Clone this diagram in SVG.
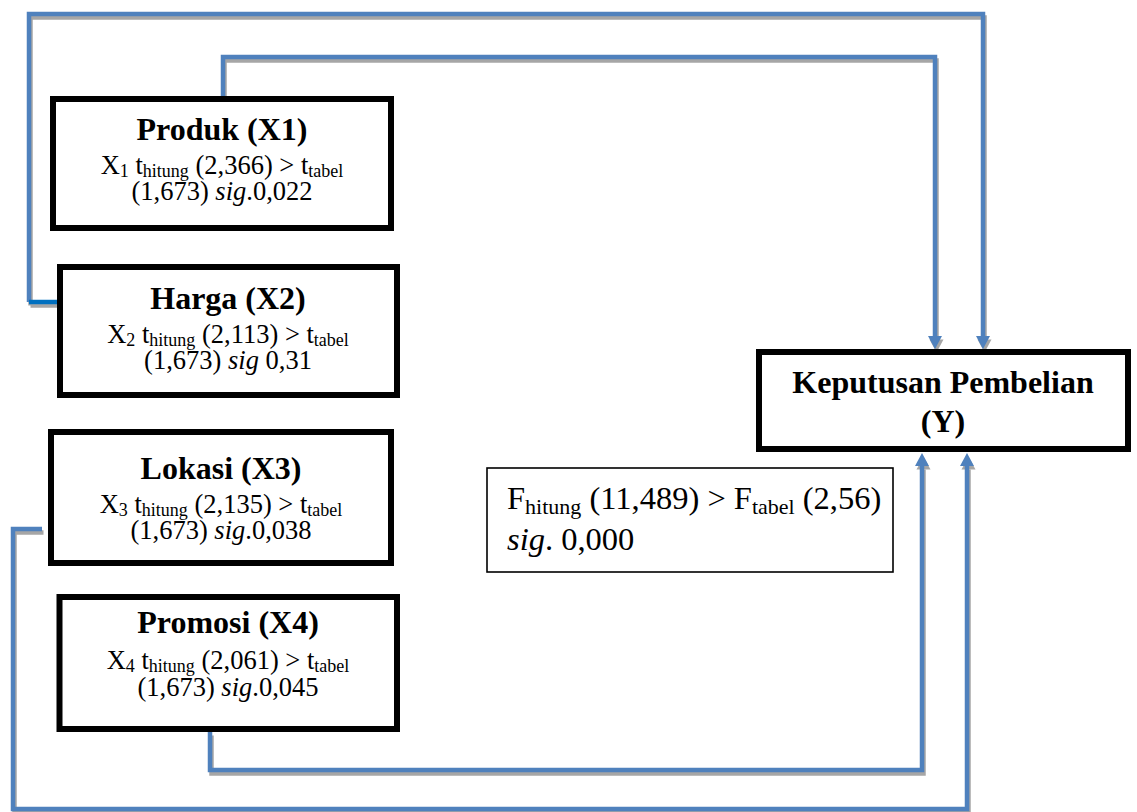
<svg xmlns="http://www.w3.org/2000/svg" width="1137" height="812" viewBox="0 0 1137 812">
<style>
.box{fill:#fff;stroke:#000;stroke-width:6}
.fbox{fill:#fff;stroke:#000;stroke-width:1.6}
.t{font-family:"Liberation Serif","Times New Roman",serif;fill:#000;text-anchor:middle}
.title{font-size:32px;font-weight:bold}
.body{font-size:26.5px}
.sub{font-size:18px}
.fsub{font-size:22px}
.ft{font-family:"Liberation Serif","Times New Roman",serif;fill:#000;font-size:32.5px}
.line{fill:none;stroke:#4f81bd;stroke-width:4.5;stroke-linejoin:miter;stroke-linecap:butt}
.shadow{fill:none;stroke:#a6a6a6;stroke-width:4.5}
</style>
<defs>
<marker id="arr" markerUnits="userSpaceOnUse" markerWidth="16" markerHeight="16" refX="0" refY="7" orient="auto" overflow="visible">
<path d="M0,0 L13,7 L0,14 Z" fill="#4f81bd"/>
</marker>
<marker id="arrs" markerUnits="userSpaceOnUse" markerWidth="16" markerHeight="16" refX="0" refY="7" orient="auto" overflow="visible">
<path d="M0,0 L13,7 L0,14 Z" fill="#a6a6a6"/>
</marker>
</defs>
<rect width="1137" height="812" fill="#fff"/>
<g id="connectors">
<g transform="translate(1.5,3.5)">
<path class="shadow" d="M29 302 V14 H983 V336" marker-end="url(#arrs)"/>
<path class="shadow" d="M223 96 V57 H935 V336" marker-end="url(#arrs)"/>
<path class="shadow" d="M210 732 V770 H922 V466" marker-end="url(#arrs)"/>
<path class="shadow" d="M42 529 H13 V809 H967 V466" marker-end="url(#arrs)"/>
<path class="shadow" d="M29 302 H57"/>
</g>
<path class="line" d="M29 302 V14 H983 V336" marker-end="url(#arr)"/>
<path class="line" d="M223 96 V57 H935 V336" marker-end="url(#arr)"/>
<path class="line" d="M210 732 V770 H922 V466" marker-end="url(#arr)"/>
<path class="line" d="M42 529 H13 V809 H967 V466" marker-end="url(#arr)"/>
<path class="line" d="M29 302 H57" style="stroke:#0070c0"/>
</g>
<g id="produk">
<rect class="box" x="53" y="99" width="338" height="129"/>
<text class="t title" x="222" y="140">Produk (X1)</text>
<text class="t body" x="222" y="174">X<tspan class="sub" dy="3">1</tspan><tspan dy="-3"> t</tspan><tspan class="sub" dy="3">hitung</tspan><tspan dy="-3"> (2,366) &gt; t</tspan><tspan class="sub" dy="3">tabel</tspan></text>
<text class="t body" x="222" y="200">(1,673) <tspan font-style="italic">sig</tspan>.0,022</text>
</g>
<g id="harga">
<rect class="box" x="60" y="267" width="337" height="128"/>
<text class="t title" x="228" y="309">Harga (X2)</text>
<text class="t body" x="228" y="343">X<tspan class="sub" dy="3">2</tspan><tspan dy="-3"> t</tspan><tspan class="sub" dy="3">hitung</tspan><tspan dy="-3"> (2,113) &gt; t</tspan><tspan class="sub" dy="3">tabel</tspan></text>
<text class="t body" x="228" y="369">(1,673) <tspan font-style="italic">sig</tspan> 0,31</text>
</g>
<g id="lokasi">
<rect class="box" x="51" y="432" width="340" height="131"/>
<text class="t title" x="221" y="479">Lokasi (X3)</text>
<text class="t body" x="221" y="513">X<tspan class="sub" dy="3">3</tspan><tspan dy="-3"> t</tspan><tspan class="sub" dy="3">hitung</tspan><tspan dy="-3"> (2,135) &gt; t</tspan><tspan class="sub" dy="3">tabel</tspan></text>
<text class="t body" x="221" y="539">(1,673) <tspan font-style="italic">sig</tspan>.0,038</text>
</g>
<g id="promosi">
<rect class="box" x="59.5" y="597" width="337.5" height="132"/>
<text class="t title" x="228" y="633">Promosi (X4)</text>
<text class="t body" x="228" y="669">X<tspan class="sub" dy="3">4</tspan><tspan dy="-3"> t</tspan><tspan class="sub" dy="3">hitung</tspan><tspan dy="-3"> (2,061) &gt; t</tspan><tspan class="sub" dy="3">tabel</tspan></text>
<text class="t body" x="228" y="696">(1,673) <tspan font-style="italic">sig</tspan>.0,045</text>
</g>
<g id="keputusan">
<rect class="box" x="759" y="352" width="369" height="97"/>
<text class="t title" x="943" y="393">Keputusan Pembelian</text>
<text class="t title" x="943" y="432">(Y)</text>
</g>
<g id="fhitung">
<rect class="fbox" x="487" y="468" width="406" height="104"/>
<text class="ft" x="507" y="509">F<tspan class="fsub" dy="5">hitung</tspan><tspan dy="-5"> (11,489) &gt; F</tspan><tspan class="fsub" dy="5">tabel</tspan><tspan dy="-5"> (2,56)</tspan></text>
<text class="ft" x="507" y="550"><tspan font-style="italic">sig</tspan>. 0,000</text>
</g>
</svg>
